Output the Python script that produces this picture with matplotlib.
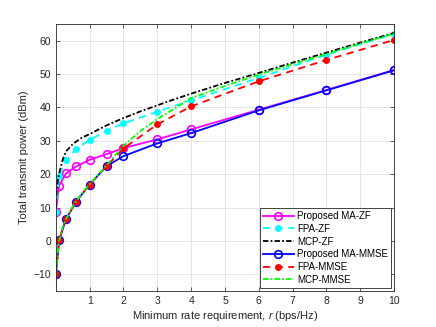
import numpy as np
import matplotlib
matplotlib.use('Agg')
import matplotlib.pyplot as plt

plt.rcParams['font.family'] = ['Liberation Sans', 'DejaVu Sans']
plt.rcParams['mathtext.fontset'] = 'custom'
plt.rcParams['mathtext.it'] = 'Liberation Sans:italic'
plt.rcParams['mathtext.rm'] = 'Liberation Sans'

# rate points with markers
r_pts = [0, 0.1, 0.3, 0.6, 1, 1.5, 2, 3, 4, 6, 8, 10]
ma_zf = [8.6, 16.6, 20.2, 22.3, 24.3, 26.0, 27.8, 30.4, 33.4, 39.3, 45.2, 51.2]
fpa_zf = [8.6, 19.4, 24.2, 27.5, 30.3, 32.9, 35.2, 38.7, 42.1, 48.8, 55.8, 62.0]
ma_mmse = [-10, 0.3, 6.5, 11.8, 16.9, 22.4, 25.4, 29.2, 32.3, 39.1, 45.1, 51.1]
fpa_mmse = [-10, 0.3, 6.5, 11.8, 16.9, 22.4, 27.7, 34.9, 40.3, 47.8, 54.2, 60.2]

# MCP curves (finer grid, no markers)
r_mcp = [0, 0.02, 0.05, 0.1, 0.2, 0.3, 0.5, 0.75, 1, 1.5, 2, 2.5, 3, 3.5, 4, 5, 6, 7, 8, 9, 10]
mcp_zf = [10.0, 14.0, 17.5, 20.3, 24.2, 26.8, 29.0, 30.8, 32.0, 34.6, 36.8, 38.8, 40.6, 42.4, 44.1, 47.3, 50.3, 53.4, 56.4, 59.4, 62.3]
mcp_mmse = [-14.0, -9.0, -4.0, 0.0, 4.0, 6.5, 10.3, 14.0, 17.0, 22.6, 28.5, 32.9, 36.5, 39.6, 42.8, 46.4, 49.8, 52.9, 56.0, 59.1, 62.1]

fig = plt.figure(figsize=(4.36, 3.27), dpi=100)
ax = fig.add_axes([0.128, 0.110, 0.776, 0.817])

lw = 1.3
ax.plot(r_pts, ma_zf, '-o', color=(1, 0, 1), lw=lw, ms=5.5, mfc='none', mew=1.2, label='Proposed MA-ZF')
ax.plot(r_pts, fpa_zf, '--o', color=(0, 1, 1), lw=lw, ms=5, mfc=(0, 1, 1), mew=0, label='FPA-ZF', dashes=(4, 3))
ax.plot(r_mcp, mcp_zf, '-.', color='k', lw=lw, label='MCP-ZF', dashes=(3, 1.2, 1, 1.2))
ax.plot(r_pts, ma_mmse, '-o', color=(0, 0, 1), lw=lw, ms=5.5, mfc='none', mew=1.2, label='Proposed MA-MMSE')
ax.plot(r_pts, fpa_mmse, '--o', color=(1, 0, 0), lw=lw, ms=5, mfc=(1, 0, 0), mew=0, label='FPA-MMSE', dashes=(4, 3))
ax.plot(r_mcp, mcp_mmse, '-.', color=(0, 1, 0), lw=lw, label='MCP-MMSE', dashes=(3, 1.2, 1, 1.2))

ax.set_xlim(0, 10)
ax.set_ylim(-15, 65)
ax.set_xticks(range(1, 11))
ax.set_yticks(range(-10, 61, 10))
ax.grid(True, color=(0.88, 0.88, 0.88), lw=0.6)
ax.set_axisbelow(True)
ax.tick_params(direction='in', top=True, right=True, labelsize=7.5, colors=(0.15, 0.15, 0.15),
               length=3, width=0.5)
for s in ax.spines.values():
    s.set_color((0.15, 0.15, 0.15))
    s.set_linewidth(0.6)

ax.set_xlabel('Minimum rate requirement, $r$ (bps/Hz)', fontsize=8, color=(0.15, 0.15, 0.15), labelpad=2)
ax.set_ylabel('Total transmit power (dBm)', fontsize=8, color=(0.15, 0.15, 0.15), labelpad=3)

leg = ax.legend(loc='lower right', fontsize=7, handlelength=3.2, labelspacing=0.28,
                borderpad=0.3, handletextpad=0.3, borderaxespad=0.35, fancybox=False,
                framealpha=1, edgecolor=(0.15, 0.15, 0.15))
leg.get_frame().set_linewidth(0.6)

plt.savefig('out.png', dpi=100)
